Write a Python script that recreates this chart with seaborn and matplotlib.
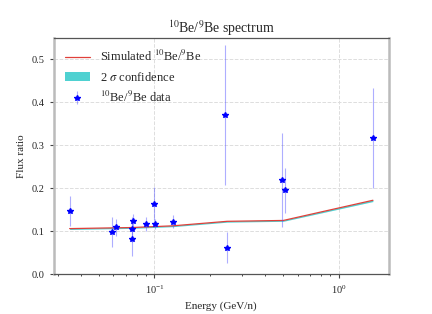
import matplotlib
matplotlib.use("Agg")
import matplotlib.pyplot as plt
import seaborn as sns
import pandas as pd

# simulated ratio
sim_energy = [0.0347, 0.0755, 0.126, 0.248, 0.5, 1.53]
sim_ratio = [0.106, 0.1085, 0.1125, 0.123, 0.125, 0.172]
sim_lo = [0.104, 0.1065, 0.1105, 0.121, 0.123, 0.169]
sim_hi = [0.107, 0.1095, 0.1135, 0.124, 0.126, 0.173]

# measured 10Be/9Be
data_energy = [0.0347, 0.0587, 0.0622, 0.0755, 0.0755, 0.0769, 0.0905,
               0.0996, 0.101, 0.126, 0.242, 0.248, 0.493, 0.508, 1.53]
data_ratio = [0.147, 0.098, 0.109, 0.104, 0.082, 0.123, 0.117,
              0.164, 0.116, 0.122, 0.370, 0.062, 0.219, 0.195, 0.317]
data_err = [0.035, 0.035, 0.02, 0.03, 0.04, 0.018, 0.016,
            0.038, 0.012, 0.015, 0.163, 0.036, 0.11, 0.052, 0.117]

sns.set_style("ticks")
plt.rcParams["font.family"] = ["Liberation Serif", "DejaVu Serif"]
plt.rcParams["mathtext.fontset"] = "stix"

sim = pd.DataFrame({"E": sim_energy, "R": sim_ratio})

fig = plt.figure(figsize=(4.32, 3.14), dpi=100)
ax = fig.add_axes([0.124, 0.127, 0.776, 0.752])

ax.fill_between(sim_energy, sim_lo, sim_hi, color="#4fd1d1", lw=0,
                label=r"2 $\sigma$ confidence")
sns.lineplot(data=sim, x="E", y="R", ax=ax, color="#e0403a", lw=0.9,
             label=r"Simulated $^{10}$Be/$^{9}$Be")
ax.errorbar(data_energy, data_ratio, yerr=data_err, fmt="*", color="blue",
            ms=3.8, ecolor=(0.3, 0.3, 1.0, 0.45), elinewidth=0.8,
            label=r"$^{10}$Be/$^{9}$Be data")

ax.set_xscale("log")
ax.set_xlim(0.0284, 1.866)
ax.set_ylim(0, 0.55)
ax.set_yticks([0.0, 0.1, 0.2, 0.3, 0.4, 0.5])
ax.grid(True, which="major", ls="--", color="#dddddd", lw=0.7)
for side in ["left", "right"]:
    ax.spines[side].set_color("#bbbbbb")
    ax.spines[side].set_linewidth(1.8)
for side in ["top", "bottom"]:
    ax.spines[side].set_color("#555555")
    ax.spines[side].set_linewidth(0.9)
ax.tick_params(labelsize=7.5, length=3, color="#444444")
ax.tick_params(which="minor", length=1.5)

ax.set_title(r"$^{10}$Be/$^{9}$Be spectrum", fontsize=10, pad=3)
ax.set_xlabel("Energy (GeV/n)", fontsize=8)
ax.set_ylabel("Flux ratio", fontsize=8)

h, l = ax.get_legend_handles_labels()
order = [l.index(r"Simulated $^{10}$Be/$^{9}$Be"),
         l.index(r"2 $\sigma$ confidence"),
         l.index(r"$^{10}$Be/$^{9}$Be data")]
ax.legend([h[i] for i in order], [l[i] for i in order], loc="upper left",
          frameon=False, fontsize=9)

fig.savefig("out.png", dpi=100)
